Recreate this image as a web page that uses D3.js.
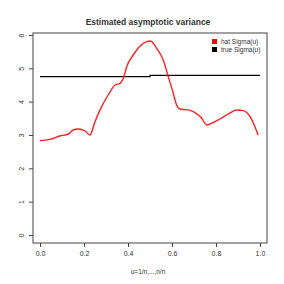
<!DOCTYPE html>
<html>
<head>
<meta charset="utf-8">
<script src="https://cdn.jsdelivr.net/npm/d3@7"></script>
<style>
  body { margin: 0; background: #fff; }
  text { font-family: "Liberation Sans", Arial, sans-serif; fill: #333; }
</style>
</head>
<body>
<svg id="chart" width="284" height="284"></svg>
<script>
// estimated sigma curve
var hat_u = [0.0, 0.045, 0.09, 0.129, 0.151, 0.174, 0.205, 0.227, 0.25, 0.28, 0.31, 0.341, 0.364, 0.379, 0.394, 0.424, 0.455, 0.485, 0.5, 0.508, 0.53, 0.56, 0.583, 0.606, 0.618, 0.636, 0.682, 0.72, 0.735, 0.758, 0.78, 0.818, 0.856, 0.894, 0.924, 0.955, 0.977, 0.992];
var hat_v = [2.83, 2.87, 2.97, 3.03, 3.15, 3.18, 3.12, 3.0, 3.4, 3.85, 4.2, 4.5, 4.55, 4.7, 5.05, 5.4, 5.67, 5.8, 5.82, 5.8, 5.6, 5.25, 4.75, 4.25, 3.95, 3.78, 3.74, 3.6, 3.5, 3.3, 3.35, 3.48, 3.63, 3.75, 3.73, 3.55, 3.25, 3.0];

// true sigma, a step at u = 0.5
var true_u = [0.0, 0.5, 0.5, 1.0];
var true_v = [4.75, 4.75, 4.79, 4.79];

var x_ticks = [0, 0.2, 0.4, 0.6, 0.8, 1.0];
var y_ticks = [0, 1, 2, 3, 4, 5, 6];
var legend_labels = ['hat Sigma(u)', 'true Sigma(u)'];
var legend_colors = ['#ff0000', '#000000'];

var svg = d3.select('#chart');
var box = {left: 33, right: 267, top: 33, bottom: 243};

var x = d3.scaleLinear().domain([-0.032, 1.032]).range([box.left, box.right]);
var y = d3.scaleLinear().domain([-0.24, 6.06]).range([box.bottom, box.top]);

// axes
var xAxis = svg.append('g')
    .attr('transform', 'translate(0,' + box.bottom + ')')
    .call(d3.axisBottom(x).tickValues(x_ticks).tickFormat(d3.format('.1f')).tickSize(4).tickPadding(4));
var yAxis = svg.append('g')
    .attr('transform', 'translate(' + box.left + ',0)')
    .call(d3.axisLeft(y).tickValues(y_ticks).tickFormat(d3.format('d')).tickSize(4).tickPadding(5));
[xAxis, yAxis].forEach(function(a) {
    a.select('.domain').remove();
    a.selectAll('line').attr('stroke', '#444');
    a.selectAll('text').style('font-size', '7px').attr('fill', '#333');
});
// R style: y labels run along the axis
yAxis.selectAll('text')
    .attr('text-anchor', 'middle')
    .attr('x', 0).attr('y', 0).attr('dy', '0.35em')
    .attr('transform', 'translate(-11,0) rotate(-90)');

// plot box
svg.append('rect')
    .attr('x', box.left).attr('y', box.top)
    .attr('width', box.right - box.left).attr('height', box.bottom - box.top)
    .attr('fill', 'none').attr('stroke', '#444').attr('stroke-width', 1);

// lines
var line = d3.line()
    .x(function(d) { return x(d[0]); })
    .y(function(d) { return y(d[1]); });

svg.append('path')
    .datum(d3.zip(true_u, true_v))
    .attr('d', line)
    .attr('fill', 'none').attr('stroke', '#000').attr('stroke-width', 1.3);

svg.append('path')
    .datum(d3.zip(hat_u, hat_v))
    .attr('d', line.curve(d3.curveMonotoneX))
    .attr('fill', 'none').attr('stroke', '#ff2020').attr('stroke-width', 1.4);

// title and label
svg.append('text')
    .attr('x', 148).attr('y', 25)
    .attr('text-anchor', 'middle')
    .style('font-size', '8.5px').style('font-weight', 'bold').attr('fill', '#111')
    .text('Estimated asymptotic variance');

svg.append('text')
    .attr('x', 148).attr('y', 274)
    .attr('text-anchor', 'middle')
    .style('font-size', '6.5px')
    .text('u=1/n,...,n/n');

// legend
var leg = svg.append('g');
legend_labels.forEach(function(lbl, i) {
    leg.append('rect')
        .attr('x', 212).attr('y', 39 + i * 8)
        .attr('width', 5).attr('height', 5)
        .attr('fill', legend_colors[i]);
    leg.append('text')
        .attr('x', 221).attr('y', 44 + i * 8)
        .style('font-size', '6.5px')
        .text(lbl);
});
</script>
</body>
</html>
